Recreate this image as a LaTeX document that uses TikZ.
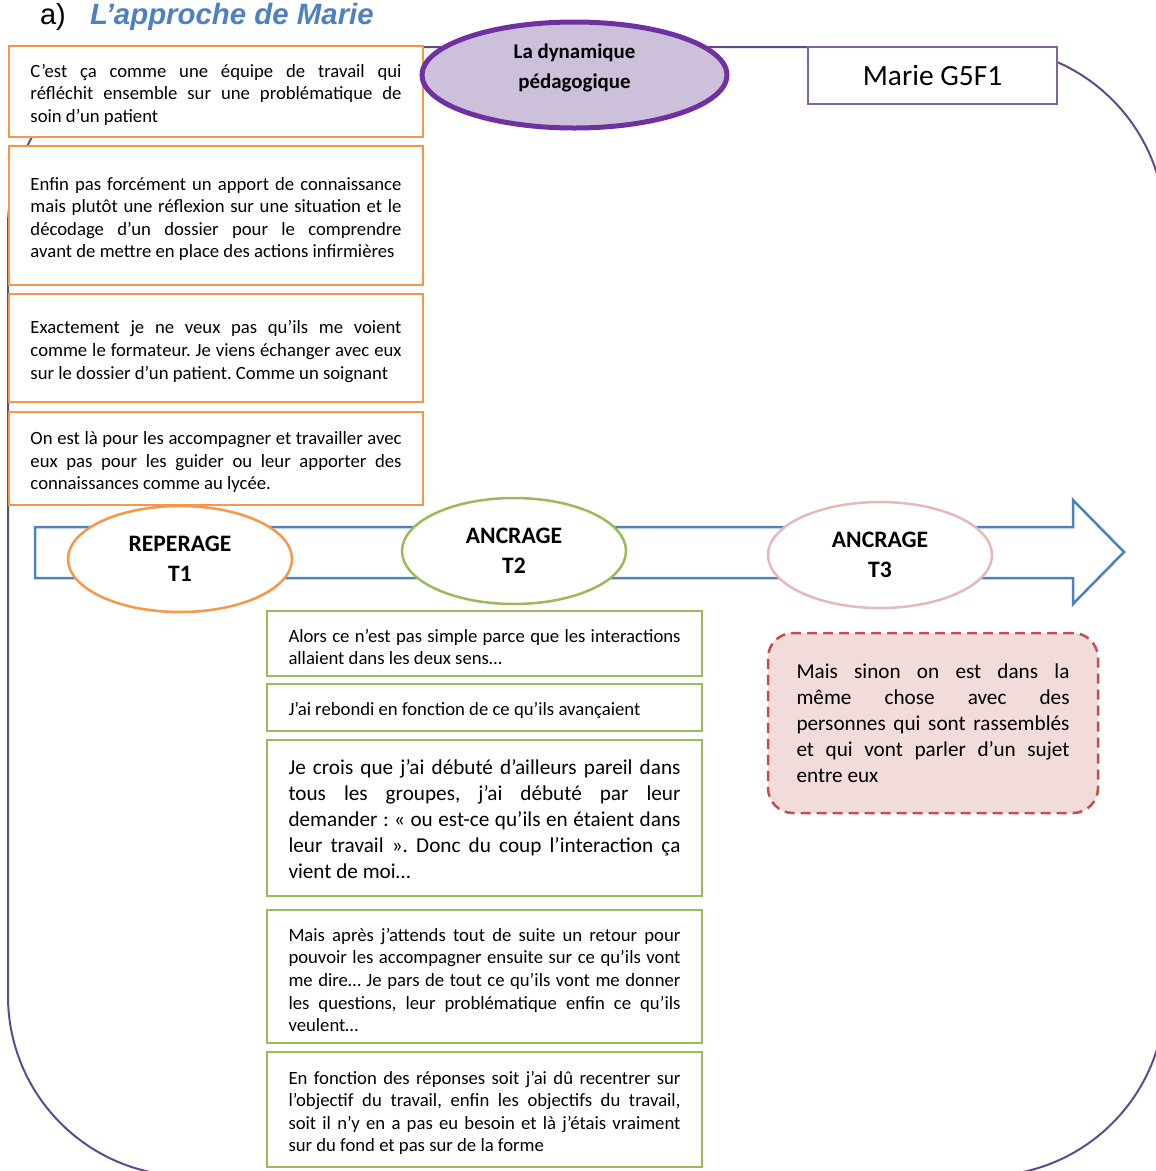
\documentclass[tikz,border=0pt]{standalone}
\usepackage{fontspec}
\setmainfont{Carlito}
\newfontfamily\titrefont{Liberation Sans}
\usetikzlibrary{positioning,shapes.geometric}
\frenchspacing

\definecolor{orangecit}{HTML}{F79646}
\definecolor{vertcit}{HTML}{9BBB59}
\definecolor{bleuaxe}{HTML}{4F81BD}
\definecolor{violetbox}{HTML}{8064A2}
\definecolor{violetdyn}{HTML}{7030A0}
\definecolor{lilas}{HTML}{CCC0DA}
\definecolor{contourviolet}{HTML}{5F4B8B}
\definecolor{roseT}{HTML}{E6B9B8}
\definecolor{rougecit}{HTML}{C0504D}
\definecolor{rosecit}{HTML}{F2DCDB}

\newcommand\txtcit{\fontsize{18.7}{22.6}\selectfont\hyphenpenalty=10000}
\newcommand\txtgros{\fontsize{21.2}{26.1}\selectfont\hyphenpenalty=10000}

\begin{document}
\begin{tikzpicture}[
    x=1pt, y=-1pt,
    node distance=9pt,
    every node/.style={outer sep=0pt},
    citorange/.style={draw=orangecit, line width=2.5pt, fill=white, text width=371pt, inner xsep=21.5pt, inner ysep=0pt, align=justify, font=\txtcit, text height=20pt},
    citvert/.style={draw=vertcit, line width=2.5pt, fill=white, text width=392pt, inner xsep=21.5pt, inner ysep=0pt, align=justify, font=\txtcit, text height=20pt},
    temps/.style={ellipse, draw, line width=2.5pt, fill=white, minimum width=224pt, minimum height=106pt, inner sep=0pt, align=center, font=\fontsize{23.6}{30}\selectfont\bfseries},
    axe/.style={draw=bleuaxe, line width=2.5pt, fill=white, line join=miter},
    contour/.style={draw=contourviolet, line width=2pt, rounded corners=180pt}
]
\useasboundingbox (0,0) rectangle (1156,1171);

\begin{scope}
\clip (0,0) rectangle (1156,1171);
\draw[contour] (8,47) rectangle (1165,1176);
\end{scope}

\node[anchor=base west, inner sep=0pt, font=\titrefont\fontsize{29}{34}\selectfont] (lettre) at (40,24) {a)};
\node[anchor=base west, inner sep=0pt, text=bleuaxe, font=\titrefont\fontsize{29.4}{34}\selectfont\bfseries\itshape] (titre) at (90,24) {L’approche de Marie};

\node[citorange, minimum height=91pt] (o1) at (216,91.5) {C’est ça comme une équipe de travail qui\linebreak réfléchit ensemble sur une problématique de\linebreak soin d’un patient};
\node[citorange, minimum height=139pt, below=9pt of o1] (o2) {Enfin pas forcément un apport de connaissance\linebreak mais plutôt une réflexion sur une situation et le\linebreak décodage d’un dossier pour le comprendre\linebreak avant de mettre en place des actions infirmières};
\node[citorange, minimum height=108pt, below=9pt of o2] (o3) {Exactement je ne veux pas qu’ils me voient\linebreak comme le formateur. Je viens échanger avec eux\linebreak sur le dossier d’un patient. Comme un soignant};
\node[citorange, minimum height=93pt, below=10pt of o3] (o4) {On est là pour les accompagner et travailler avec\linebreak eux pas pour les guider ou leur apporter des\linebreak connaissances comme au lycée.};

\node[ellipse, draw=violetdyn, line width=5pt, fill=lilas, minimum width=305pt, minimum height=106pt, inner sep=0pt, text depth=17pt, align=center, font=\fontsize{20.9}{30}\selectfont\bfseries] (dyn) at (574.5,75) {La dynamique\\pédagogique};
\node[draw=violetbox, line width=2.5pt, fill=white, minimum width=249pt, minimum height=57pt, font=\fontsize{29.4}{34}\selectfont] (marie) at (932.5,75.5) {Marie G5F1};

\draw[axe] (35,527) -- (1073,527) -- (1073,500) -- (1124,552) -- (1073,604) -- (1073,578) -- (35,578) -- cycle;

\node[temps, draw=orangecit] (t1) at (180,559) {REPERAGE\\T1};
\node[temps, draw=vertcit] (t2) at (514,551) {ANCRAGE\\T2};
\node[temps, draw=roseT] (t3) at (880,555) {ANCRAGE\\T3};

\node[citvert, minimum height=65pt] (g1) at (484.5,643.5) {Alors ce n’est pas simple parce que les interactions\linebreak allaient dans les deux sens…};
\node[citvert, minimum height=47pt, below=8pt of g1] (g2) {J’ai rebondi en fonction de ce qu’ils avançaient};
\node[citvert, minimum height=156pt, below=9pt of g2, font=\txtgros, text height=17pt] (g3) {Je crois que j’ai débuté d’ailleurs pareil dans\linebreak tous les groupes, j’ai débuté par leur\linebreak demander : « ou est-ce qu’ils en étaient dans\linebreak leur travail ». Donc du coup l’interaction ça\linebreak vient de moi…};
\node[citvert, minimum height=133pt, below=14pt of g3] (g4) {Mais après j’attends tout de suite un retour pour\linebreak pouvoir les accompagner ensuite sur ce qu’ils vont\linebreak me dire… Je pars de tout ce qu’ils vont me donner\linebreak les questions, leur problématique enfin ce qu’ils\linebreak veulent…};
\node[citvert, minimum height=115pt, below=9pt of g4] (g5) {En fonction des réponses soit j’ai dû recentrer sur\linebreak l’objectif du travail, enfin les objectifs du travail,\linebreak soit il n’y en a pas eu besoin et là j’étais vraiment\linebreak sur du fond et pas sur de la forme};

\node[draw=rougecit, fill=rosecit, line width=2.5pt, dash pattern=on 10pt off 6pt, rounded corners=25pt, minimum width=330pt, minimum height=180pt, text width=273pt, inner xsep=28.5pt, inner ysep=0pt, align=justify, font=\txtgros] (p1) at (933,723) {Mais sinon on est dans la\linebreak même chose avec des\linebreak personnes qui sont rassemblés\linebreak et qui vont parler d’un sujet\linebreak entre eux};
\end{tikzpicture}
\end{document}
